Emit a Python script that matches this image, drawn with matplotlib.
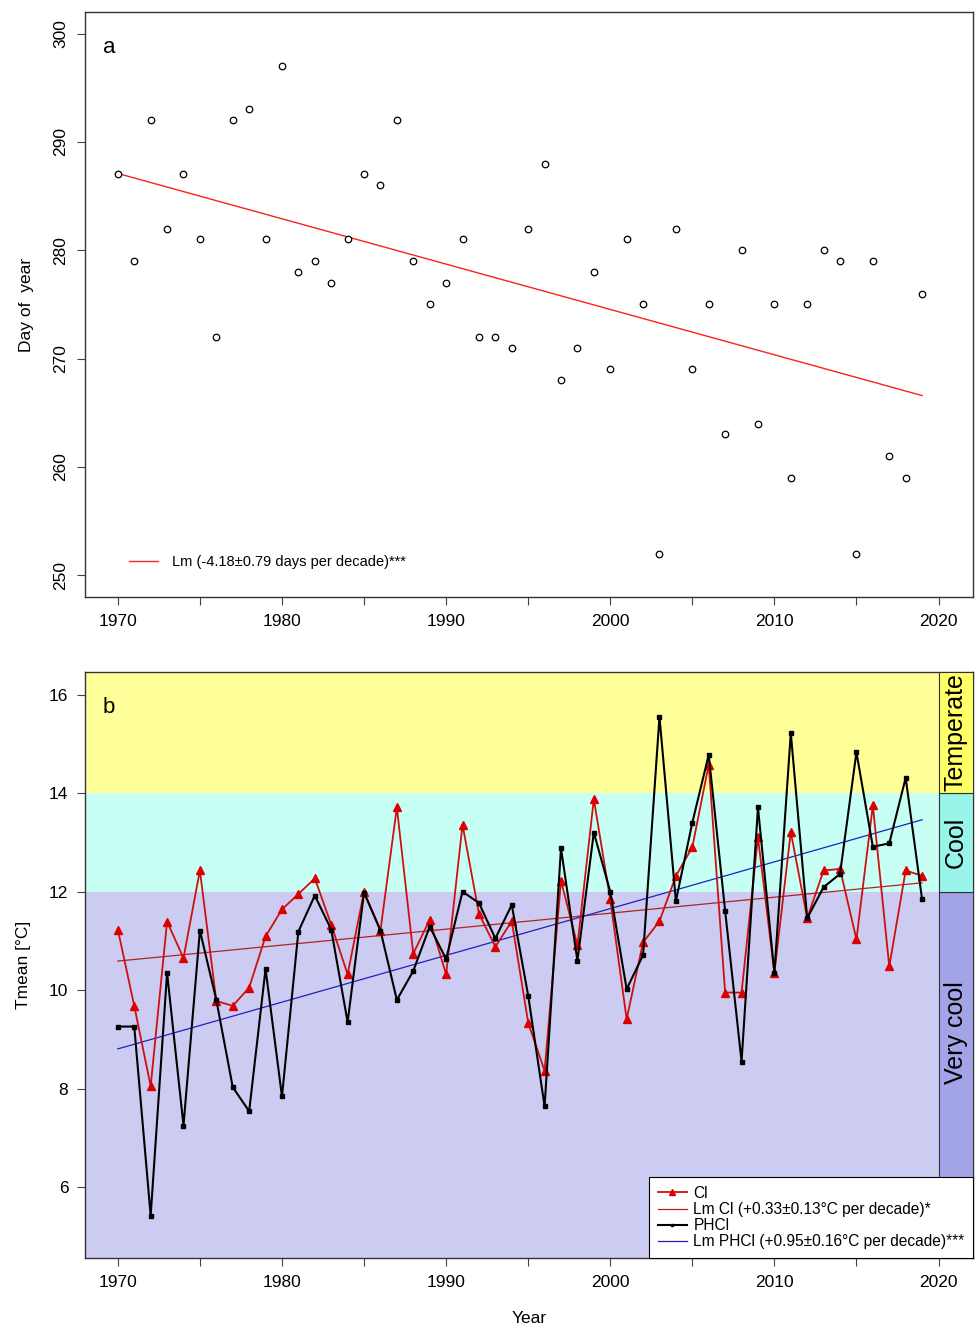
import numpy as np
from matplotlib import pyplot as plt
from matplotlib.patches import Rectangle

plt.rcParams['font.family'] = ['Liberation Sans', 'DejaVu Sans']

years = np.arange(1970, 2020)

# panel a: day of year
doy = [287, 279, 292, 282, 287, 281, 272, 292, 293, 281,
       297, 278, 279, 277, 281, 287, 286, 292, 279, 275,
       277, 281, 272, 272, 271, 282, 288, 268, 271, 278,
       269, 281, 275, 252, 282, 269, 275, 263, 280, 264,
       275, 259, 275, 280, 279, 252, 279, 261, 259, 276]

# panel b: mean temperature
ci = [11.23, 9.68, 8.05, 11.39, 10.65, 12.43, 9.78, 9.68, 10.05, 11.09,
      11.64, 11.95, 12.27, 11.33, 10.32, 12.0, 11.21, 13.71, 10.74, 11.43,
      10.32, 13.36, 11.55, 10.88, 11.4, 9.34, 8.36, 12.22, 10.91, 13.88,
      11.84, 9.41, 10.97, 11.4, 12.32, 12.9, 14.58, 9.95, 9.95, 13.1,
      10.35, 13.21, 11.46, 12.43, 12.46, 11.03, 13.75, 10.48, 12.43, 12.32]
phci = [9.26, 9.26, 5.42, 10.35, 7.25, 11.21, 9.8, 8.03, 7.54, 10.43,
        7.84, 11.19, 11.92, 11.23, 9.35, 11.98, 11.21, 9.8, 10.39, 11.29,
        10.63, 12.0, 11.77, 11.05, 11.73, 9.89, 7.64, 12.88, 10.6, 13.2,
        12.0, 10.02, 10.71, 15.55, 11.81, 13.4, 14.78, 11.61, 8.55, 13.71,
        10.35, 15.22, 11.46, 12.09, 12.36, 14.83, 12.91, 12.98, 14.31, 11.84]

classes = ['Very cool', 'Cool', 'Temperate']
class_bounds = [12, 14]

fig = plt.figure(figsize=(9.76, 13.28), dpi=100)
axa = fig.add_axes([0.0871, 0.5505, 0.9098, 0.4405])
axb = fig.add_axes([0.0871, 0.0527, 0.9098, 0.4413])

xlim = (1968.0, 2022.1)
xticks = np.arange(1970, 2021, 5)
xlabels = [str(t) if t % 10 == 0 else '' for t in xticks]

# ---- panel a
axa.scatter(years, doy, s=22, facecolors='white', edgecolors='black', linewidths=0.9, zorder=3)
p = np.polyfit(years, doy, 1)
axa.plot(years, np.polyval(p, years), color='#ff2020', lw=1.0, label='Lm (-4.18±0.79 days per decade)***')
axa.set_xlim(xlim)
axa.set_ylim(248, 302)
axa.set_yticks(np.arange(250, 301, 10))
axa.set_yticklabels([str(v) for v in range(250, 301, 10)], rotation=90, va='center')
axa.set_xticks(xticks)
axa.set_xticklabels(xlabels)
axa.set_ylabel('Day of  year', fontsize=12.5, labelpad=14)
axa.text(0.02, 0.94, 'a', transform=axa.transAxes, fontsize=16, va='center')
axa.legend(loc='lower left', bbox_to_anchor=(0.035, 0.025), frameon=False, fontsize=10.5,
           handlelength=2.0, handletextpad=0.9)

# ---- panel b
ylo, yhi = 4.56, 16.46
leg_top = 6.26
band_cols = ['#ccccf2', '#c8fff5', '#ffff99']
strip_cols = ['#a3a3e8', '#99f5ea', '#ffff66']
edges = [ylo] + class_bounds + [yhi]
for i in range(3):
    axb.add_patch(Rectangle((xlim[0], edges[i]), 2020 - xlim[0], edges[i + 1] - edges[i],
                            facecolor=band_cols[i], edgecolor='none', zorder=0))
    axb.add_patch(Rectangle((2020, edges[i]), xlim[1] - 2020, edges[i + 1] - edges[i],
                            facecolor=strip_cols[i], edgecolor='#333333', lw=0.8, zorder=4))
    lo = leg_top if i == 0 else edges[i]
    axb.text((2020 + xlim[1]) / 2, (lo + edges[i + 1]) / 2,
             classes[i], rotation=90, ha='center', va='center', fontsize=18, zorder=5)

axb.plot(years, ci, color='#cc1010', lw=1.3, marker='^', ms=5.5, mfc='#dd0000', mec='#dd0000',
         label='Cl', zorder=3)
pc = np.polyfit(years, ci, 1)
axb.plot(years, np.polyval(pc, years), color='#b22222', lw=0.9, label='Lm Cl (+0.33±0.13°C per decade)*', zorder=2)
axb.plot(years, phci, color='black', lw=1.5, marker='s', ms=3, label='PHCl', zorder=3)
pp = np.polyfit(years, phci, 1)
axb.plot(years, np.polyval(pp, years), color='#2020c0', lw=0.9, label='Lm PHCl (+0.95±0.16°C per decade)***', zorder=2)

axb.set_xlim(xlim)
axb.set_ylim(ylo, yhi)
axb.set_yticks(np.arange(6, 17, 2))
axb.set_xticks(xticks)
axb.set_xticklabels(xlabels)
axb.set_ylabel('Tmean [°C]', fontsize=12.5, labelpad=13)
axb.set_xlabel('Year', fontsize=12.5, labelpad=15)
axb.text(0.02, 0.94, 'b', transform=axb.transAxes, fontsize=16, va='center')
leg = axb.legend(loc='lower right', borderaxespad=0, fontsize=11.2, fancybox=False,
                 framealpha=1, edgecolor='black', labelspacing=0.08, handlelength=1.9,
                 handletextpad=0.4, borderpad=0.55, markerscale=0.7)
leg.set_zorder(6)
leg.get_frame().set_linewidth(0.8)

for ax in (axa, axb):
    for s in ax.spines.values():
        s.set_color('#333333')
        s.set_linewidth(1.0)
    ax.tick_params(labelsize=12.5, length=6, color='#444444', pad=6)

fig.savefig('out.png', dpi=100)
